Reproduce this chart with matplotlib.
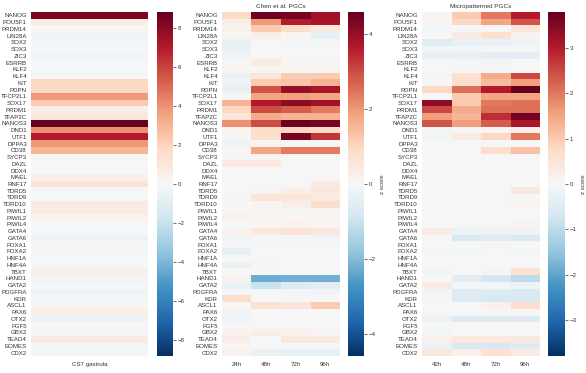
import numpy as np
import matplotlib
matplotlib.use("Agg")
import matplotlib.pyplot as plt

plt.rcParams['font.family'] = ['Liberation Sans', 'DejaVu Sans']

genes = ["NANOG", "POU5F1", "PRDM14", "LIN28A", "SOX2", "SOX3", "ZIC3", "ESRRB", "KLF2", "KLF4",
         "KIT", "PDPN", "TFCP2L1", "SOX17", "PRDM1", "TFAP2C", "NANOS3", "DND1", "UTF1", "DPPA3",
         "CD38", "SYCP3", "DAZL", "DDX4", "MAEL", "RNF17", "TDRD5", "TDRD9", "TDRD10", "PIWIL1",
         "PIWIL2", "PIWIL4", "GATA4", "GATA6", "FOXA1", "FOXA2", "HNF1A", "HNF4A", "TBXT", "HAND1",
         "GATA2", "PDGFRA", "KDR", "ASCL1", "PAX6", "OTX2", "FGF5", "GBX2", "TEAD4", "EOMES", "CDX2"]

cs7_labels = ["CS7 gastrula"]
cs7 = [8.3, 0.8, 0.0, -0.3, -0.2, -0.2, -0.3, -0.1, -0.1, -0.1,
       1.8, 1.8, 3.8, 2.3, 0.6, 1.0, 8.8, 4.0, 7.0, 3.8,
       3.0, 0.1, -0.1, -0.1, 0.5, 1.2, -0.1, -0.1, 0.8, 0.8,
       0.4, -0.1, -0.1, -0.5, -0.2, -0.2, -0.1, -0.1, 0.5, -0.3,
       -0.1, -0.5, -0.2, 0.2, 0.5, -0.5, -0.1, 0.1, 0.7, -0.2, -0.2]

chen_labels = ["24h", "48h", "72h", "96h"]
chen_24h = [0.9, 0.3, 0.2, 0.1, -0.3, -0.3, -0.2, -0.1, 0.1, -0.3,
            -0.2, -0.3, 0.1, 1.6, 1.0, 0.6, 2.1, 0.1, 0.1, -0.2,
            0.1, 0.05, 0.4, 0.0, 0.0, 0.0, 0.0, 0.1, 0.0, 0.0,
            0.2, 0.0, 0.2, -0.2, -0.1, -0.4, 0.0, -0.3, 0.0, 0.2,
            -0.3, -0.1, 0.8, 0.1, -0.2, -0.2, 0.0, 0.2, 0.3, 0.1, 0.2]
chen_48h = [4.5, 2.0, 1.2, 0.3, 0.0, -0.05, 0.0, 0.4, 0.1, 0.6,
            1.2, 2.9, 1.8, 3.7, 3.0, 1.7, 3.0, 0.8, 0.8, 0.1,
            1.8, 0.05, 0.4, 0.0, 0.0, 0.0, 0.1, 0.6, 0.1, 0.0,
            0.1, 0.1, 0.5, -0.1, 0.0, 0.0, 0.0, -0.1, 0.0, -2.3,
            -1.0, -0.1, 0.0, 0.7, 0.0, 0.0, 0.0, 0.3, 0.0, 0.0, -0.3]
chen_72h = [4.4, 3.6, 0.8, 0.1, -0.1, -0.05, 0.0, 0.1, 0.1, 1.2,
            1.3, 4.0, 1.9, 4.1, 2.8, 1.6, 4.5, 1.0, 4.4, 0.0,
            2.4, 0.05, 0.0, 0.0, 0.0, 0.0, 0.3, 0.6, 0.3, 0.0,
            0.1, 0.2, 0.7, -0.1, 0.0, 0.0, 0.0, 0.0, 0.0, -2.2,
            -0.6, -0.1, 0.0, 0.6, 0.0, 0.0, 0.0, 0.2, 0.5, 0.0, -0.4]
chen_96h = [3.9, 3.8, 0.5, -0.4, -0.1, -0.05, 0.0, 0.1, 0.1, 1.2,
            1.6, 3.8, 1.8, 3.9, 2.4, 1.6, 4.4, 0.9, 3.3, 0.0,
            2.4, 0.05, 0.0, 0.0, 0.0, 0.4, 0.5, 0.4, 0.8, 0.1,
            0.1, 0.1, 0.5, -0.2, 0.0, 0.0, 0.0, 0.0, 0.0, -2.2,
            -0.5, -0.2, 0.0, 1.2, 0.0, 0.0, 0.0, 0.1, 0.5, 0.0, -0.4]

micro_labels = ["42h", "48h", "72h", "96h"]
micro_42h = [0.1, 0.1, -0.1, 0.0, -0.5, -0.1, -0.3, 0.0, 0.0, -0.1,
             0.0, 0.8, 0.0, 3.4, 2.5, 1.6, 2.4, -0.1, -0.1, 0.0,
             0.0, 0.0, 0.0, 0.0, 0.0, 0.0, 0.0, 0.0, 0.0, 0.0,
             0.0, 0.0, 0.3, 0.0, 0.0, -0.1, 0.0, 0.0, -0.1, 0.0,
             0.3, -0.1, -0.1, 0.0, 0.0, -0.2, 0.0, -0.1, 0.2, -0.3, 0.4]
micro_48h = [1.0, 0.8, 0.0, 0.3, -0.3, -0.1, -0.3, -0.1, 0.0, 0.6,
             0.7, 2.1, 1.0, 1.0, 1.4, 1.3, 1.6, 0.0, 0.3, 0.0,
             0.0, 0.0, 0.0, 0.0, 0.0, 0.0, 0.0, 0.0, 0.0, 0.0,
             0.0, 0.0, -0.2, -0.6, 0.0, -0.1, 0.0, 0.0, 0.0, -0.4,
             -0.1, -0.5, -0.5, 0.0, 0.0, -0.5, 0.0, 0.0, 0.4, -0.6, 0.2]
micro_72h = [2.0, 1.5, 0.0, 0.6, -0.3, -0.1, -0.4, -0.1, 0.0, 1.4,
             1.2, 3.0, 1.5, 2.0, 2.1, 2.8, 2.3, 0.0, 0.8, 0.0,
             0.7, 0.0, 0.0, 0.0, 0.0, 0.0, 0.0, 0.0, 0.0, 0.0,
             0.0, 0.0, -0.2, -0.5, 0.1, 0.0, 0.0, 0.0, 0.1, -0.7,
             -0.1, -0.5, -0.6, 0.2, 0.0, -0.5, 0.0, 0.0, 0.4, -0.6, 0.6]
micro_96h = [3.0, 2.4, 0.5, 0.1, -0.2, -0.1, -0.4, 0.0, 0.0, 2.5,
             1.6, 3.8, 1.5, 2.1, 2.1, 3.7, 3.1, 0.2, 2.0, 0.0,
             1.1, 0.0, 0.0, 0.0, 0.0, 0.0, 0.4, 0.0, 0.1, 0.0,
             0.0, 0.1, -0.2, -0.6, 0.0, -0.1, 0.0, 0.0, 0.6, -1.0,
             -0.2, -0.6, -0.6, 0.7, 0.0, -0.5, 0.0, 0.0, 0.4, -0.5, 0.3]

panels = [
    dict(data=np.array([cs7]).T, xlabels=cs7_labels, title="", vlim=8.8,
         ticks=[-8, -6, -4, -2, 0, 2, 4, 6, 8], label="",
         ax=[31, 148], cax=[157, 173]),
    dict(data=np.array([chen_24h, chen_48h, chen_72h, chen_96h]).T, xlabels=chen_labels,
         title="Chen et al. PGCs", vlim=4.6, ticks=[-4, -2, 0, 2, 4], label="z score",
         ax=[222, 340], cax=[348, 364]),
    dict(data=np.array([micro_42h, micro_48h, micro_72h, micro_96h]).T, xlabels=micro_labels,
         title="Micropatterned PGCs", vlim=3.8, ticks=[-3, -2, -1, 0, 1, 2, 3], label="z score",
         ax=[422, 540], cax=[548, 565]),
]

W, H = 586, 373
fig = plt.figure(figsize=(W / 100, H / 100), dpi=100)
top, bot = 12, 356
txtc = "#333333"
fs = 4.4

for p in panels:
    x0, x1 = p["ax"]
    ax = fig.add_axes([x0 / W, (H - bot) / H, (x1 - x0) / W, (bot - top) / H])
    d = p["data"]
    m = ax.pcolormesh(np.arange(d.shape[1] + 1), np.arange(d.shape[0] + 1), d,
                      cmap="RdBu_r", vmin=-p["vlim"], vmax=p["vlim"], edgecolors="none")
    ax.set_xlim(0, d.shape[1])
    ax.set_ylim(d.shape[0], 0)
    ax.set_yticks(np.arange(d.shape[0]) + 0.5)
    ax.set_yticklabels(genes, fontsize=fs, color=txtc)
    ax.set_xticks(np.arange(d.shape[1]) + 0.5)
    ax.set_xticklabels(p["xlabels"], fontsize=fs, color=txtc)
    ax.tick_params(axis="y", length=0, pad=3)
    ax.tick_params(axis="x", length=0, pad=4)
    for s in ax.spines.values():
        s.set_visible(False)
    if p["title"]:
        ax.set_title(p["title"], fontsize=4.6, color=txtc, pad=3)
    c0, c1 = p["cax"]
    cax = fig.add_axes([c0 / W, (H - bot) / H, (c1 - c0) / W, (bot - top) / H])
    cb = fig.colorbar(m, cax=cax)
    cb.outline.set_visible(False)
    cb.set_ticks(p["ticks"])
    cb.ax.tick_params(labelsize=fs, length=2, width=0.5, color=txtc, labelcolor=txtc, pad=1.5)
    if p["label"]:
        cb.set_label(p["label"], fontsize=fs, color=txtc, labelpad=3)

fig.savefig("out.png", dpi=100)
